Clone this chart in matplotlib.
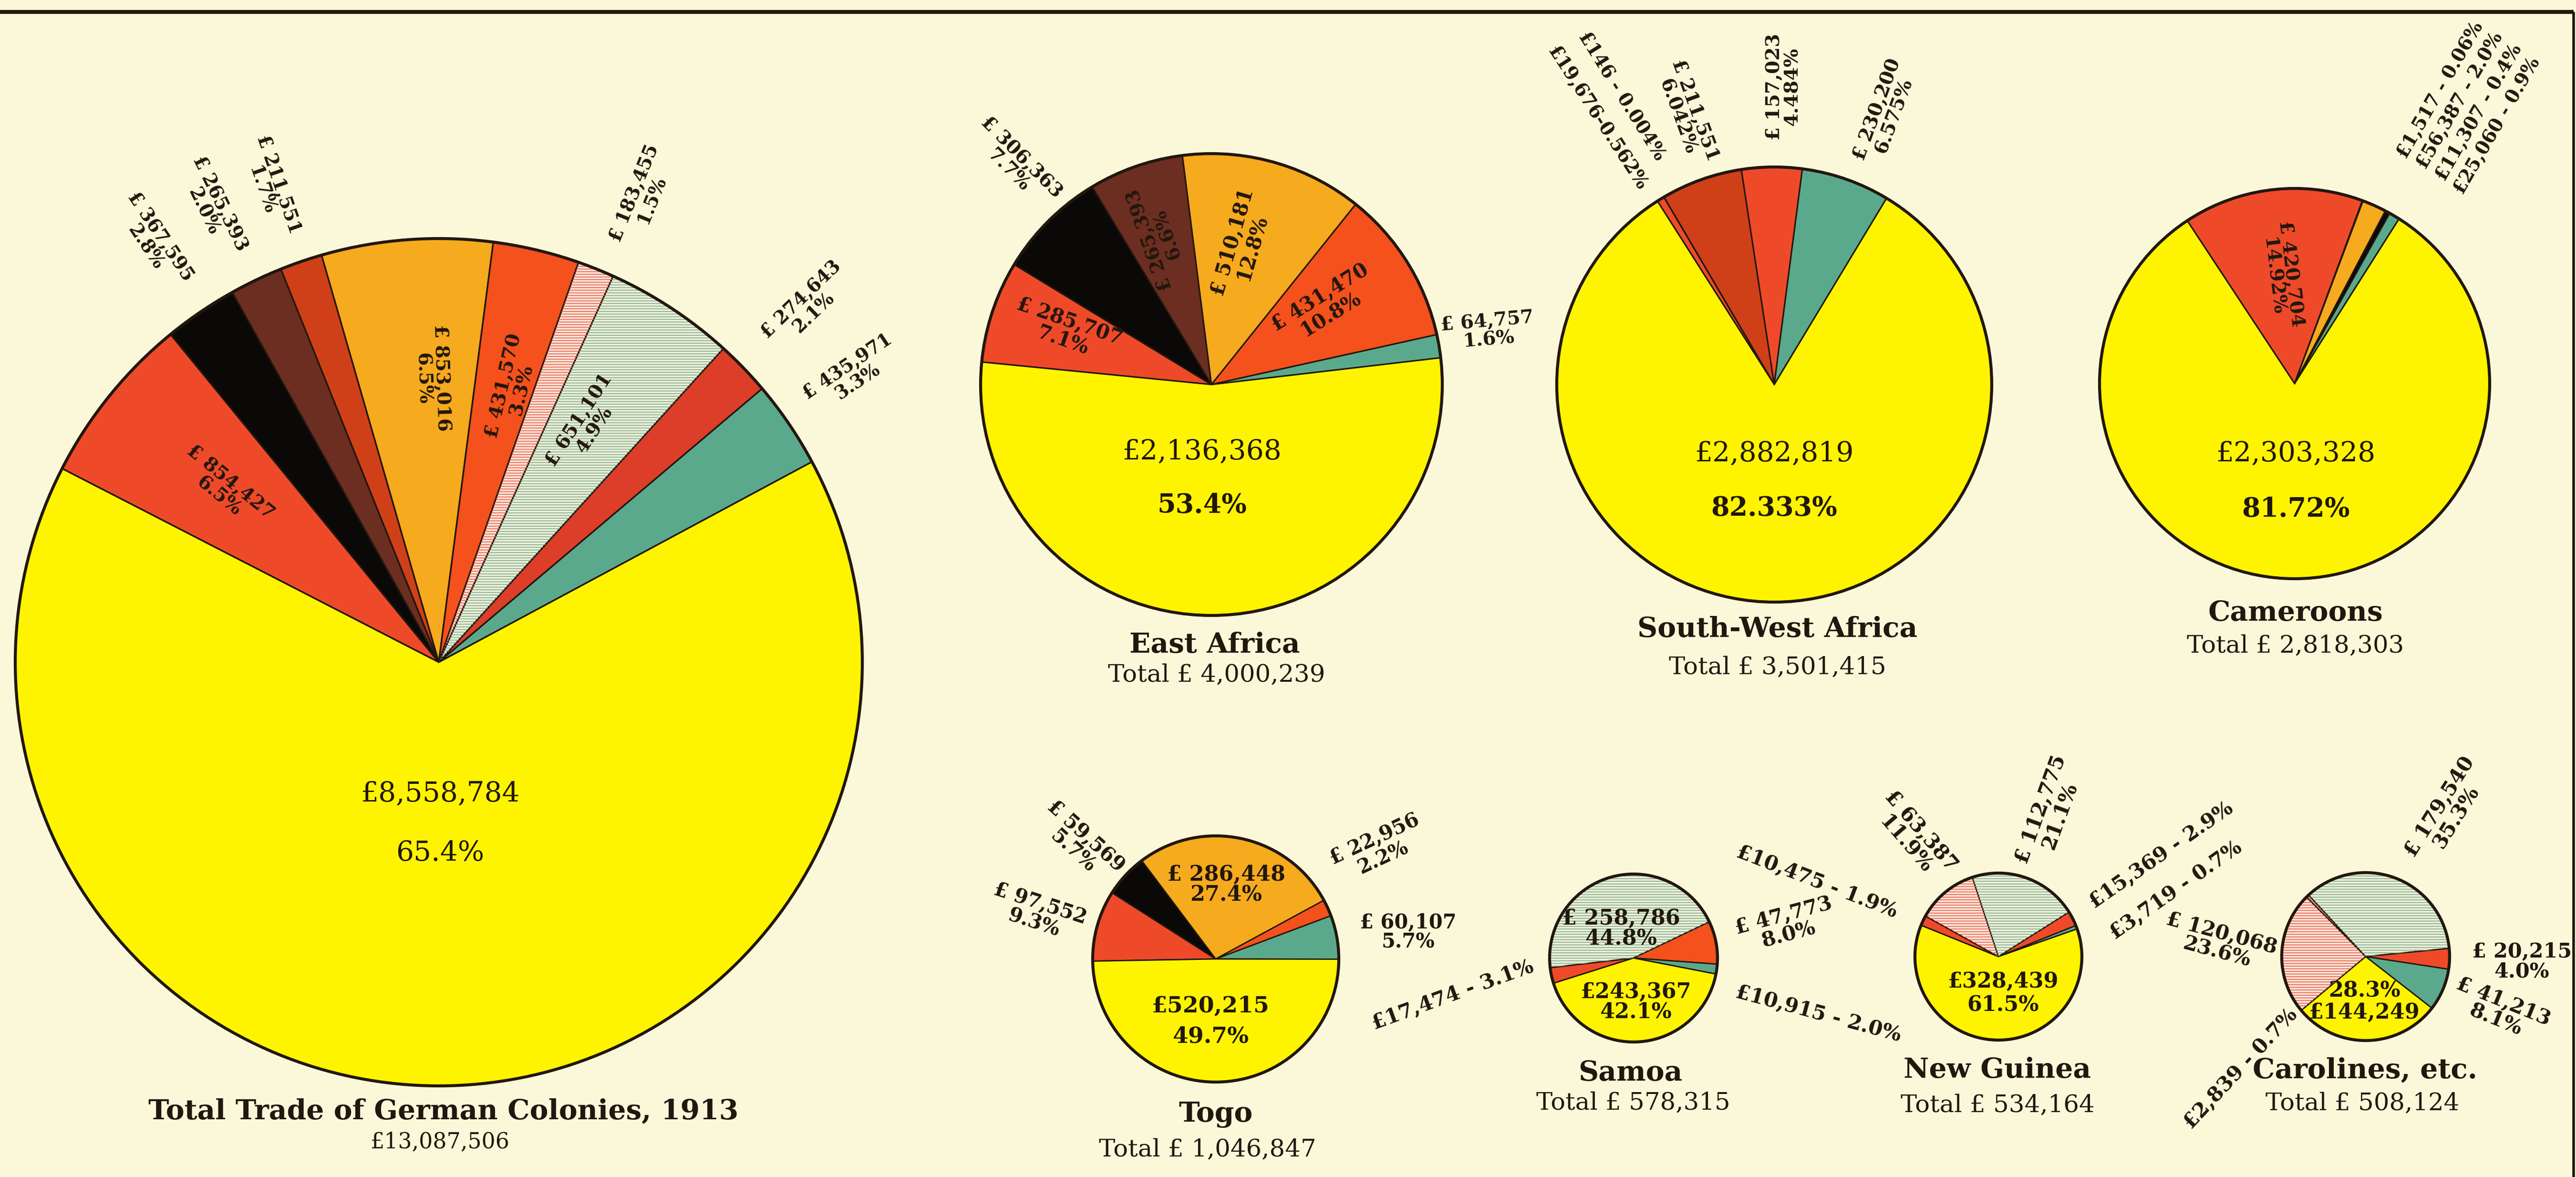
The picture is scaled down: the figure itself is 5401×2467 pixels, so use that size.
"""
Trade of the German colonies in 1913, drawn as eight pie charts on one sheet.
"""

import matplotlib

matplotlib.use("Agg")
import matplotlib.pyplot as plt
import numpy as np
from matplotlib.patches import Circle, Wedge

W, H = 5401, 2467
DPI = 100

PAPER = "#FBF8DA"
INK = "#22170E"
YELLOW = "#FFF400"
RED = "#EE4A2A"
VERMILION = "#F4511C"
CRIMSON = "#DC3E2A"
REDBROWN = "#CF4019"
BROWN = "#6B2E20"
BLACK = "#0B0907"
ORANGE = "#F6AA1E"
TEAL = "#5BA98C"
PINK = "#FCE3D8"
PALEGREEN = "#EBF0D8"
SALMON = "#EE9A7E"

# hatched fills: base colour -> colour of the ruled lines
HATCH = {PINK: "#E4553C", PALEGREEN: "#7AA486"}

# ---- data (slices clockwise, the large yellow share last) ----
TOTAL_VALUES = [854427, 367595, 265393, 211551, 853016, 431570, 183455, 651101, 274643, 435971, 8558784]
TOTAL_PCTS = ["6.5", "2.8", "2.0", "1.7", "6.5", "3.3", "1.5", "4.9", "2.1", "3.3", "65.4"]
TOTAL_COLOURS = [RED, BLACK, BROWN, REDBROWN, ORANGE, VERMILION, PINK, PALEGREEN, CRIMSON, TEAL, YELLOW]

EAST_VALUES = [285707, 306363, 265393, 510181, 431470, 64757, 2136368]
EAST_PCTS = ["7.1", "7.7", "6.6", "12.8", "10.8", "1.6", "53.4"]
EAST_COLOURS = [RED, BLACK, BROWN, ORANGE, VERMILION, TEAL, YELLOW]

SWA_VALUES = [19676, 146, 211551, 157023, 230200, 2882819]
SWA_PCTS = ["0.562", "0.004", "6.042", "4.484", "6.575", "82.333"]
SWA_COLOURS = [RED, BLACK, REDBROWN, RED, TEAL, YELLOW]

CAM_VALUES = [420704, 1517, 56387, 11307, 25060, 2303328]
CAM_PCTS = ["14.92", "0.06", "2.0", "0.4", "0.9", "81.72"]
CAM_COLOURS = [RED, BROWN, ORANGE, BLACK, TEAL, YELLOW]

TOGO_VALUES = [97552, 59569, 286448, 22956, 60107, 520215]
TOGO_PCTS = ["9.3", "5.7", "27.4", "2.2", "5.7", "49.7"]
TOGO_COLOURS = [RED, BLACK, ORANGE, VERMILION, TEAL, YELLOW]

SAMOA_VALUES = [17474, 258786, 47773, 10915, 243367]
SAMOA_PCTS = ["3.1", "44.8", "8.0", "2.0", "42.1"]
SAMOA_COLOURS = [RED, PALEGREEN, VERMILION, TEAL, YELLOW]

NG_VALUES = [10475, 63387, 112775, 15369, 3719, 328439]
NG_PCTS = ["1.9", "11.9", "21.1", "2.9", "0.7", "61.5"]
NG_COLOURS = [RED, PINK, PALEGREEN, RED, TEAL, YELLOW]

CAR_VALUES = [120068, 2839, 179540, 20215, 41213, 144249]
CAR_PCTS = ["23.6", "0.7", "35.3", "4.0", "8.1", "28.3"]
CAR_COLOURS = [PINK, SALMON, PALEGREEN, RED, TEAL, YELLOW]

TITLES = ["Total Trade of German Colonies, 1913", "East Africa", "South-West Africa", "Cameroons",
          "Togo", "Samoa", "New Guinea", "Carolines, etc."]

# ---- layout (pixel positions measured from the top-left corner) ----
# slice label spec: (radius factor, angle shift, rotation, font size, format)
LAYOUTS = [
    dict(centre=(920, 1388), r=888, start=152.8, lw=2.4, rim=4.5,
         slices=[(0.65, 0, -39, 29, "nl"), (1.2, 0, -56, 28, "nl"), (1.2, 1, -64, 28, "nl"),
                 (1.19, 0.6, -71, 28, "nl"), (0.67, -3, -88, 29, "nl"), (0.67, -1.7, 77, 29, "nl"),
                 (1.2, -1.9, 68, 28, "nl"), (0.66, 1.3, 57, 29, "nl"), (1.21, 0, 44, 28, "nl"),
                 (1.19, 0.6, 34, 28, "nl"), None],
         main=(3, 276, 400, 42, "normal", 42, "normal"),
         title=(930, 2329, 42), sub=(923, 2394, 33), big=True),
    dict(centre=(2540, 806), r=484, start=174.4, lw=2.2, rim=4.5,
         slices=[(0.67, -1.8, -19, 30, "nl"), (1.28, -3.2, -45, 29, "nl"), (0.68, 0.6, 109, 29, "nl"),
                 (0.62, 3.4, 74, 30, "nl"), (0.6, 2.9, 32, 30, "nl"), (1.22, 1.5, 5, 29, "nl"), None],
         main=(-20, 141, 253, 42, "normal", 40, "bold"),
         title=(2547, 1352, 42), sub=(2551, 1415, 37)),
    dict(centre=(3720, 806), r=456, start=122.5, lw=2.2, rim=4.5,
         slices=[(1.47, 2.1, -57, 28, "tight"), (1.5, -2.6, -58, 28, "dash"), (1.31, -1.6, -70, 29, "nl"),
                 (1.37, -2.4, 90, 29, "nl"), (1.35, -3, 70, 29, "nl"), None],
         main=(0, 145, 259, 42, "normal", 40, "bold"),
         title=(3727, 1319, 42), sub=(3727, 1399, 37)),
    dict(centre=(4811, 804), r=409, start=123.4, lw=2.2, rim=4.5,
         slices=[(0.56, 0.2, -83, 29, "nl"), (1.68, -6.0, 60, 28, "dash"), (1.68, -6.2, 60, 28, "dash"),
                 (1.68, -5.8, 60, 28, "dash"), (1.68, -7.4, 60, 28, "dash"), None],
         main=(2, 147, 264, 42, "normal", 40, "bold"),
         title=(4813, 1285, 42), sub=(4813, 1354, 37)),
    dict(centre=(2549, 2010), r=258, start=181, lw=2.0, rim=4.5,
         slices=[(1.5, 1.4, -18, 30, "nl"), (1.45, 2.6, -42, 30, "nl"), (0.61, 4.3, 0, 32, "nl"),
                 (1.6, 9.6, 25, 30, "nl"), (1.58, -2.3, 0, 30, "nl"), None],
         main=(-11, 99, 162, 34, "bold", 34, "bold"),
         title=(2549, 2336, 42), sub=(2532, 2410, 37)),
    dict(centre=(3425, 2008), r=176, start=197.5, lw=2.0, rim=4.5,
         slices=[(2.2, -0.5, 20, 31, "dash"), (0.38, 7, 0, 32, "nl"), (1.86, 1.5, 15, 31, "nl"),
                 (2.3, -9.1, -15, 31, "dash"), None],
         main=(5, 71, 114, 32, "bold", 32, "bold"),
         title=(3418, 2249, 42), sub=(3424, 2312, 37)),
    dict(centre=(4190, 2005), r=175, start=158, lw=2.0, rim=4.5,
         slices=[(2.35, 3, -21, 31, "dash"), (1.75, -4.1, -49, 31, "nl"), (1.83, 0, 70, 31, "nl"),
                 (2.3, 5, 35, 31, "dash"), (2.27, 0, 35, 31, "dash"), None],
         main=(10, 52, 102, 32, "bold", 32, "bold"),
         title=(4188, 2243, 42), sub=(4188, 2317, 37)),
    dict(centre=(4960, 2005), r=176, start=219.9, lw=2.0, rim=4.5,
         slices=[(1.75, -2.8, -15, 31, "nl"), (2.0, 88, 47, 31, "dash"), (1.98, -8.8, 58, 31, "nl"),
                 (1.86, -0.3, 0, 31, "nl"), (1.72, 1.4, -22, 31, "nl"), None],
         main=(-3, 117, 72, 32, "bold", 32, "bold"),
         title=(4959, 2243, 42), sub=(4953, 2313, 37)),
]


def slice_label(value, pct, fmt):
    if fmt == "dash":
        return f"£{value:,} - {pct}%"
    if fmt == "tight":
        return f"£{value:,}-{pct}%"
    return f"£ {value:,}\n{pct}%"


def draw_pie(ax, values, pcts, colours, title, lay):
    cx, cy = lay["centre"][0], H - lay["centre"][1]
    r = lay["r"]
    wedges, _ = ax.pie(values, colors=colours, startangle=lay["start"], counterclock=False,
                       center=(cx, cy), radius=r,
                       wedgeprops=dict(edgecolor=INK, linewidth=lay["lw"]))
    for w, col in zip(wedges, colours):
        if col in HATCH:
            ax.add_patch(Wedge((cx, cy), r, w.theta1, w.theta2, facecolor="none",
                               edgecolor=HATCH[col], hatch="---", linewidth=0, zorder=1.5))
    ax.add_patch(Circle((cx, cy), r, fill=False, edgecolor=INK, linewidth=lay["rim"], zorder=2))

    for w, v, p, spec in zip(wedges, values, pcts, lay["slices"]):
        if spec is None:
            continue
        k, shift, rot, size, fmt = spec
        a = np.deg2rad((w.theta1 + w.theta2) / 2 + shift)
        ax.text(cx + k * r * np.cos(a), cy + k * r * np.sin(a), slice_label(v, p, fmt),
                rotation=rot, rotation_mode="anchor", ha="center", va="center",
                multialignment="center", fontsize=size, fontweight="bold", color=INK,
                linespacing=1.0, zorder=3)

    dx, dy_amt, dy_pct, s_amt, w_amt, s_pct, w_pct = lay["main"]
    ax.text(cx + dx, cy - dy_amt, f"£{values[-1]:,}", ha="center", va="center",
            fontsize=s_amt, fontweight=w_amt, color=INK, zorder=3)
    ax.text(cx + dx, cy - dy_pct, f"{pcts[-1]}%", ha="center", va="center",
            fontsize=s_pct, fontweight=w_pct, color=INK, zorder=3)

    tx, ty, ts = lay["title"]
    ax.text(tx, H - ty, title, ha="center", va="center", fontsize=ts, fontweight="bold", color=INK)
    sx, sy, ss = lay["sub"]
    total = sum(values)
    sub = f"£{total:,}" if lay.get("big") else f"Total £ {total:,}"
    ax.text(sx, H - sy, sub, ha="center", va="center", fontsize=ss, color=INK)


def main() -> None:
    plt.rcParams["font.family"] = ["DejaVu Serif"]
    plt.rcParams["hatch.linewidth"] = 1.1

    fig = plt.figure(figsize=(W / DPI, H / DPI), dpi=DPI, facecolor=PAPER)
    ax = fig.add_axes([0, 0, 1, 1])

    data = [
        (TOTAL_VALUES, TOTAL_PCTS, TOTAL_COLOURS),
        (EAST_VALUES, EAST_PCTS, EAST_COLOURS),
        (SWA_VALUES, SWA_PCTS, SWA_COLOURS),
        (CAM_VALUES, CAM_PCTS, CAM_COLOURS),
        (TOGO_VALUES, TOGO_PCTS, TOGO_COLOURS),
        (SAMOA_VALUES, SAMOA_PCTS, SAMOA_COLOURS),
        (NG_VALUES, NG_PCTS, NG_COLOURS),
        (CAR_VALUES, CAR_PCTS, CAR_COLOURS),
    ]
    for (values, pcts, colours), title, lay in zip(data, TITLES, LAYOUTS):
        draw_pie(ax, values, pcts, colours, title, lay)

    # printed frame along the top and right edge
    ax.plot([0, W - 5], [H - 25, H - 25], color=INK, linewidth=6, solid_capstyle="butt")
    ax.plot([W - 5, W - 5], [H - 25, 0], color=INK, linewidth=4, solid_capstyle="butt")

    ax.set_xlim(0, W)
    ax.set_ylim(0, H)
    ax.set_aspect("equal")
    ax.axis("off")
    fig.savefig("out.png", dpi=DPI, facecolor=PAPER)
    plt.close(fig)


if __name__ == "__main__":
    main()
